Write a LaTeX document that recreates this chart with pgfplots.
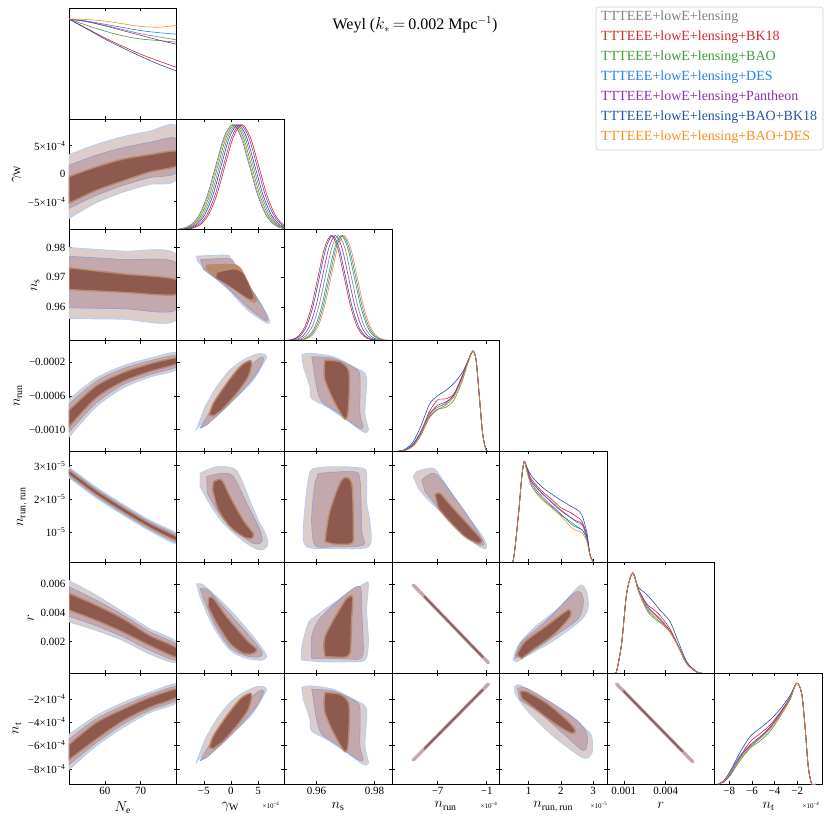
\documentclass[border=0pt]{standalone}
\usepackage{fontspec}
\setmainfont{Liberation Serif}
\usepackage{pgfplots}
\pgfplotsset{compat=1.18}

% series colours
\definecolor{cgray}{HTML}{808080}
\definecolor{cred}{HTML}{D62728}
\definecolor{cgreen}{HTML}{3A9E3A}
\definecolor{cblue}{HTML}{1E82F0}
\definecolor{cpurple}{HTML}{8C2FB4}
\definecolor{cdblue}{HTML}{2352A8}
\definecolor{corange}{HTML}{FF8C1A}
% blended contour fills
\definecolor{cOut}{HTML}{DDCDCA}
\definecolor{cOutE}{HTML}{B4D0F0}
\definecolor{cMid}{HTML}{C3A8AE}
\definecolor{cMidE}{HTML}{8A9AD2}
\definecolor{cTan}{HTML}{B98A6E}
\definecolor{cIn}{HTML}{8E5A4F}

\pgfplotsset{
    cell/.style={
        scale only axis, width=107.6pt, height=110.86pt, anchor=north west,
        axis line style={line width=0.6pt},
        tick style={black, line width=0.5pt},
        major tick length=3pt,
        xticklabels={}, yticklabels={},
        tick label style={font=\fontsize{11}{12}\selectfont},
        label style={font=\fontsize{14}{16}\selectfont},
        clip=true,
    },
    px0/.style={xmin=50, xmax=80, xtick={60,70}},
    px1/.style={xmin=-10, xmax=9.8, xtick={-5,0,5}},
    py1/.style={ymin=-10, ymax=9.8, ytick={-5,0,5}},
    px2/.style={xmin=0.9488, xmax=0.986, xtick={0.96,0.98}},
    py2/.style={ymin=0.9488, ymax=0.986, ytick={0.96,0.97,0.98}},
    px3/.style={xmin=-12.6, xmax=0.55, xtick={-7,-1}},
    py3/.style={ymin=-12.6, ymax=0.55, ytick={-10,-6,-2}},
    px4/.style={xmin=0.09, xmax=3.43, xtick={1,2,3}},
    py4/.style={ymin=0.09, ymax=3.43, ytick={1,2,3}},
    px5/.style={xmin=-0.2, xmax=7.5, xtick={1,4}},
    py5/.style={ymin=-0.2, ymax=7.5, ytick={2,4,6}},
    px6/.style={xmin=-9.3, xmax=0.2, xtick={-8,-6,-4,-2}},
    py6/.style={ymin=-9.3, ymax=0.2, ytick={-8,-6,-4,-2}},
    diag/.style={ymin=0, ymax=1.055, ytick=\empty},
    dl/.style={smooth, tension=0.5, line width=0.6pt},
    c95/.style={fill=cOut, draw=cOutE, line width=0.9pt, smooth, tension=0.5},
    c80/.style={fill=cMid, draw=cMidE, line width=0.5pt, smooth, tension=0.5},
    c68/.style={fill=cIn, draw=cTan, line width=1.4pt, smooth, tension=0.5},
    ln95/.style={cMid, line width=3.4pt, line cap=round},
    ln68/.style={cIn!85!gray, line width=1.8pt, line cap=round},
}

\begin{document}
\begin{tikzpicture}
\useasboundingbox (0pt,0pt) rectangle (830pt,830pt);

% ---------------- row 0 ----------------
\begin{axis}[cell, at={(69pt,822pt)}, px0, diag]
\addplot[dl, cgray]   coordinates {(50,0.95)(55,0.925)(60,0.89)(65,0.85)(70,0.81)(75,0.78)(80,0.751)};
\addplot[dl, cred]    coordinates {(50,0.95)(55,0.86)(60,0.77)(65,0.69)(70,0.615)(75,0.55)(80,0.49)};
\addplot[dl, cgreen]  coordinates {(50,0.95)(55,0.89)(60,0.835)(65,0.79)(70,0.76)(75,0.745)(80,0.73)};
\addplot[dl, cblue]   coordinates {(50,0.95)(55,0.93)(60,0.90)(65,0.87)(70,0.84)(75,0.82)(80,0.806)};
\addplot[dl, cpurple] coordinates {(50,0.95)(55,0.925)(60,0.885)(65,0.84)(70,0.795)(75,0.75)(80,0.71)};
\addplot[dl, cdblue]  coordinates {(50,0.95)(55,0.855)(60,0.76)(65,0.675)(70,0.595)(75,0.52)(80,0.456)};
\addplot[dl, corange] coordinates {(50,0.95)(55,0.945)(60,0.93)(65,0.905)(70,0.88)(75,0.872)(80,0.89)};
\end{axis}

% ---------------- row 1 : gamma_W ----------------
\begin{axis}[cell, at={(69pt,711.14pt)}, px0, py1,
    yticklabels={−5×10\textsuperscript{−4}, 0, 5×10\textsuperscript{−4}},
    ylabel={$\gamma_{\mathrm{W}}$}]
\addplot[c95] coordinates {(50,3.4)(57.5,5.2)(65,6.6)(72.5,7.6)(80,8.4)(80,-0.9)(72.5,-1.9)(65,-3.3)(57.5,-5.2)(50,-8.0)} -- cycle;
\addplot[c80] coordinates {(50,1.5)(57.5,3.3)(65,4.65)(72.5,5.6)(80,6.2)(80,0.3)(72.5,-0.7)(65,-2.1)(57.5,-3.9)(50,-6.2)} -- cycle;
\addplot[c68] coordinates {(50,-0.5)(57.5,1.2)(65,2.6)(72.5,3.4)(80,4.0)(80,1.4)(72.5,0.3)(65,-1.3)(57.5,-3.0)(50,-5.3)} -- cycle;
\end{axis}
\begin{axis}[cell, at={(176.6pt,711.14pt)}, px1, diag]
\addplot[dl, cblue]   coordinates {(-10.55,0.002)(-9.0,0.011)(-7.45,0.044)(-5.9,0.135)(-4.35,0.325)(-2.8,0.607)(-1.25,0.883)(0.3,1)(1.85,0.883)(3.4,0.607)(4.95,0.325)(6.5,0.135)(8.05,0.044)(9.6,0.011)(11.15,0.002)};
\addplot[dl, corange] coordinates {(-10.4,0.002)(-8.85,0.011)(-7.3,0.044)(-5.75,0.135)(-4.2,0.325)(-2.65,0.607)(-1.1,0.883)(0.45,1)(2.0,0.883)(3.55,0.607)(5.1,0.325)(6.65,0.135)(8.2,0.044)(9.75,0.011)(11.3,0.002)};
\addplot[dl, cgreen]  coordinates {(-10.15,0.002)(-8.6,0.011)(-7.05,0.044)(-5.5,0.135)(-3.95,0.325)(-2.4,0.607)(-0.85,0.883)(0.7,1)(2.25,0.883)(3.8,0.607)(5.35,0.325)(6.9,0.135)(8.45,0.044)(10.0,0.011)(11.55,0.002)};
\addplot[dl, cgray]   coordinates {(-9.85,0.002)(-8.3,0.011)(-6.75,0.044)(-5.2,0.135)(-3.65,0.325)(-2.1,0.607)(-0.55,0.883)(1.0,1)(2.55,0.883)(4.1,0.607)(5.65,0.325)(7.2,0.135)(8.75,0.044)(10.3,0.011)(11.85,0.002)};
\addplot[dl, cdblue]  coordinates {(-9.55,0.002)(-8.0,0.011)(-6.45,0.044)(-4.9,0.135)(-3.35,0.325)(-1.8,0.607)(-0.25,0.883)(1.3,1)(2.85,0.883)(4.4,0.607)(5.95,0.325)(7.5,0.135)(9.05,0.044)(10.6,0.011)(12.15,0.002)};
\addplot[dl, cpurple] coordinates {(-9.15,0.002)(-7.6,0.011)(-6.05,0.044)(-4.5,0.135)(-2.95,0.325)(-1.4,0.607)(0.15,0.883)(1.7,1)(3.25,0.883)(4.8,0.607)(6.35,0.325)(7.9,0.135)(9.45,0.044)(11.0,0.011)(12.55,0.002)};
\addplot[dl, cred]    coordinates {(-8.85,0.002)(-7.3,0.011)(-5.75,0.044)(-4.2,0.135)(-2.65,0.325)(-1.1,0.607)(0.45,0.883)(2.0,1)(3.55,0.883)(5.1,0.607)(6.65,0.325)(8.2,0.135)(9.75,0.044)(11.3,0.011)(12.85,0.002)};
\end{axis}

% ---------------- row 2 : n_s ----------------
\begin{axis}[cell, at={(69pt,600.28pt)}, px0, py2,
    yticklabels={0.96, 0.97, 0.98}, ylabel={$n_{\mathrm{s}}$}]
\addplot[c95] coordinates {(50,0.9800)(65,0.9788)(80,0.9776)(80,0.9559)(65,0.9560)(50,0.9562)} -- cycle;
\addplot[c80] coordinates {(50,0.9771)(65,0.9760)(80,0.9748)(80,0.9592)(65,0.9595)(50,0.9598)} -- cycle;
\addplot[c68] coordinates {(50,0.9732)(65,0.9712)(80,0.9693)(80,0.9642)(65,0.9650)(50,0.9659)} -- cycle;
\end{axis}
\begin{axis}[cell, at={(176.6pt,600.28pt)}, px1, py2]
\addplot[c95] coordinates {(-6.37,0.9771)(-0.73,0.9774)(0.19,0.9754)(4.8,0.9631)(6.64,0.9575)(7.13,0.9547)(6.03,0.9553)(2.96,0.9592)(-0.73,0.9664)(-4.41,0.9720)(-6.12,0.9754)} -- cycle;
\addplot[c80] coordinates {(-5.64,0.9759)(-0.41,0.9763)(0.80,0.9743)(5.40,0.9614)(6.76,0.9561)(6.14,0.9558)(3.27,0.9597)(-0.96,0.9670)(-5.01,0.9726)} -- cycle;
\addplot[c68, fill=cTan, draw=none] coordinates {(-4.53,0.9743)(-0.73,0.9745)(1.72,0.9734)(4.30,0.9642)(4.80,0.9622)(3.88,0.9617)(0.51,0.9659)(-3.17,0.9704)(-4.72,0.9729)} -- cycle;
\addplot[c68, draw=none] coordinates {(-2.57,0.9715)(0.51,0.9726)(2.35,0.9709)(4.06,0.9637)(3.27,0.9629)(-0.12,0.9670)(-2.69,0.9698)} -- cycle;
\end{axis}
\begin{axis}[cell, at={(284.2pt,600.28pt)}, px2, diag]
\addplot[dl, cred]    coordinates {(0.94925,0.002)(0.9515,0.011)(0.95375,0.044)(0.956,0.135)(0.95825,0.325)(0.9605,0.607)(0.96275,0.883)(0.965,1)(0.96725,0.883)(0.9695,0.607)(0.97175,0.325)(0.974,0.135)(0.97625,0.044)(0.9785,0.011)(0.98075,0.002)};
\addplot[dl, cdblue]  coordinates {(0.94975,0.002)(0.952,0.011)(0.95425,0.044)(0.9565,0.135)(0.95875,0.325)(0.961,0.607)(0.96325,0.883)(0.9655,1)(0.96775,0.883)(0.97,0.607)(0.97225,0.325)(0.9745,0.135)(0.97675,0.044)(0.979,0.011)(0.98125,0.002)};
\addplot[dl, cpurple] coordinates {(0.95075,0.002)(0.953,0.011)(0.95525,0.044)(0.9575,0.135)(0.95975,0.325)(0.962,0.607)(0.96425,0.883)(0.9665,1)(0.96875,0.883)(0.971,0.607)(0.97325,0.325)(0.9755,0.135)(0.97775,0.044)(0.98,0.011)(0.98225,0.002)};
\addplot[dl, cgray]   coordinates {(0.95175,0.002)(0.954,0.011)(0.95625,0.044)(0.9585,0.135)(0.96075,0.325)(0.963,0.607)(0.96525,0.883)(0.9675,1)(0.96975,0.883)(0.972,0.607)(0.97425,0.325)(0.9765,0.135)(0.97875,0.044)(0.981,0.011)(0.98325,0.002)};
\addplot[dl, cgreen]  coordinates {(0.95275,0.002)(0.955,0.011)(0.95725,0.044)(0.9595,0.135)(0.96175,0.325)(0.964,0.607)(0.96625,0.883)(0.9685,1)(0.97075,0.883)(0.973,0.607)(0.97525,0.325)(0.9775,0.135)(0.97975,0.044)(0.982,0.011)(0.98425,0.002)};
\addplot[dl, cblue]   coordinates {(0.95325,0.002)(0.9555,0.011)(0.95775,0.044)(0.96,0.135)(0.96225,0.325)(0.9645,0.607)(0.96675,0.883)(0.969,1)(0.97125,0.883)(0.9735,0.607)(0.97575,0.325)(0.978,0.135)(0.98025,0.044)(0.9825,0.011)(0.98475,0.002)};
\addplot[dl, corange] coordinates {(0.95375,0.002)(0.956,0.011)(0.95825,0.044)(0.9605,0.135)(0.96275,0.325)(0.965,0.607)(0.96725,0.883)(0.9695,1)(0.97175,0.883)(0.974,0.607)(0.97625,0.325)(0.9785,0.135)(0.98075,0.044)(0.983,0.011)(0.98525,0.002)};
\end{axis}

% ---------------- row 3 : n_run ----------------
\begin{axis}[cell, at={(69pt,489.42pt)}, px0, py3,
    yticklabels={−0.0010, −0.0006, −0.0002}, ylabel={$n_{\mathrm{run}}$}]
\addplot[c95] coordinates {(50,-6.42)(57.5,-3.92)(65,-2.47)(72.5,-1.55)(80,-0.90)(80,-2.87)(72.5,-3.79)(65,-5.10)(57.5,-7.34)(50,-10.89)} -- cycle;
\addplot[c80] coordinates {(50,-7.0)(57.5,-4.3)(65,-2.8)(72.5,-1.85)(80,-1.2)(80,-2.55)(72.5,-3.5)(65,-4.7)(57.5,-6.9)(50,-10.3)} -- cycle;
\addplot[c68] coordinates {(50,-7.73)(57.5,-4.84)(65,-3.26)(72.5,-2.21)(80,-1.49)(80,-2.21)(72.5,-3.13)(65,-4.32)(57.5,-6.29)(50,-9.71)} -- cycle;
\end{axis}
\begin{axis}[cell, at={(176.6pt,489.42pt)}, px1, py3]
\addplot[c95] coordinates {(-6.43,-10.14)(-5.69,-9.47)(-2.62,-7.89)(1.36,-5.91)(4.11,-4.13)(5.95,-2.15)(6.58,-1.37)(5.95,-1.05)(4.74,-1.05)(2.27,-1.76)(-0.17,-2.94)(-2.62,-4.92)(-4.77,-7.30)} -- cycle;
\addplot[c80] coordinates {(-5.69,-9.86)(-3.24,-7.30)(0.44,-4.92)(4.11,-2.15)(5.66,-1.44)(5.95,-1.84)(4.74,-3.34)(1.67,-5.71)(-1.40,-7.69)(-4.46,-9.47)} -- cycle;
\addplot[c68] coordinates {(-3.98,-8.28)(-3.24,-6.89)(-0.78,-4.52)(1.67,-2.55)(3.38,-1.84)(3.82,-2.15)(3.19,-3.74)(1.06,-5.71)(-1.40,-7.49)(-3.24,-8.40)} -- cycle;
\end{axis}
\begin{axis}[cell, at={(284.2pt,489.42pt)}, px2, py3]
\addplot[c95] coordinates {(0.9549,-1.16)(0.9577,-0.96)(0.9658,-1.37)(0.9727,-2.55)(0.9767,-3.34)(0.9773,-4.52)(0.9767,-8.08)(0.9779,-10.06)(0.9761,-10.26)(0.9704,-8.88)(0.9635,-7.30)(0.9583,-6.30)(0.9577,-4.92)(0.9554,-2.55)} -- cycle;
\addplot[c80] coordinates {(0.9583,-1.37)(0.9658,-1.56)(0.9733,-2.74)(0.9750,-3.74)(0.9750,-8.08)(0.9761,-9.67)(0.9744,-9.74)(0.9669,-7.89)(0.9618,-6.70)(0.9600,-4.92)(0.9589,-2.55)} -- cycle;
\addplot[c68] coordinates {(0.9629,-1.76)(0.9681,-1.96)(0.9710,-2.94)(0.9713,-4.92)(0.9710,-7.49)(0.9704,-8.67)(0.9692,-8.55)(0.9658,-6.50)(0.9629,-4.13)(0.9626,-2.55)} -- cycle;
\end{axis}
\begin{axis}[cell, at={(391.8pt,489.42pt)}, px3, diag]
\addplot[dl, cgray]   coordinates {(-12,0)(-11,0.01)(-10,0.06)(-9,0.17)(-8,0.32)(-7,0.40)(-6,0.44)(-5,0.53)(-4,0.71)(-3.3,0.86)(-2.7,0.955)(-2.3,0.87)(-1.9,0.52)(-1.5,0.17)(-1.1,0.02)(-0.7,0)};
\addplot[dl, cred]    coordinates {(-12,0)(-11,0.015)(-10,0.07)(-9,0.20)(-8,0.38)(-7,0.49)(-6,0.50)(-5,0.55)(-4,0.72)(-3.3,0.86)(-2.7,0.955)(-2.3,0.87)(-1.9,0.52)(-1.5,0.17)(-1.1,0.02)(-0.7,0)};
\addplot[dl, cgreen]  coordinates {(-12,0)(-11,0.01)(-10,0.05)(-9,0.16)(-8,0.33)(-7,0.40)(-6,0.42)(-5,0.49)(-4,0.67)(-3.3,0.84)(-2.7,0.955)(-2.3,0.87)(-1.9,0.52)(-1.5,0.17)(-1.1,0.02)(-0.7,0)};
\addplot[dl, cblue]   coordinates {(-12,0)(-11,0.015)(-10,0.07)(-9,0.19)(-8,0.36)(-7,0.42)(-6,0.46)(-5,0.54)(-4,0.70)(-3.3,0.85)(-2.7,0.955)(-2.3,0.87)(-1.9,0.52)(-1.5,0.17)(-1.1,0.02)(-0.7,0)};
\addplot[dl, cpurple] coordinates {(-12,0)(-11,0.01)(-10,0.06)(-9,0.18)(-8,0.35)(-7,0.44)(-6,0.47)(-5,0.54)(-4,0.71)(-3.3,0.86)(-2.7,0.955)(-2.3,0.87)(-1.9,0.52)(-1.5,0.17)(-1.1,0.02)(-0.7,0)};
\addplot[dl, cdblue]  coordinates {(-12,0)(-11,0.02)(-10,0.09)(-9,0.25)(-8,0.45)(-7,0.53)(-6,0.58)(-5,0.65)(-4,0.75)(-3.3,0.86)(-2.7,0.955)(-2.3,0.87)(-1.9,0.52)(-1.5,0.17)(-1.1,0.02)(-0.7,0)};
\addplot[dl, corange] coordinates {(-12,0)(-11,0.01)(-10,0.05)(-9,0.17)(-8,0.34)(-7,0.42)(-6,0.45)(-5,0.52)(-4,0.69)(-3.3,0.85)(-2.7,0.955)(-2.3,0.87)(-1.9,0.52)(-1.5,0.17)(-1.1,0.02)(-0.7,0)};
\end{axis}

% ---------------- row 4 : n_run,run ----------------
\begin{axis}[cell, at={(69pt,378.56pt)}, px0, py4,
    yticklabels={10\textsuperscript{−5}, 2×10\textsuperscript{−5}, 3×10\textsuperscript{−5}},
    ylabel={$n_{\mathrm{run,\,run}}$}]
\addplot[c95] coordinates {(50,2.96)(57.5,2.36)(65,1.84)(72.5,1.36)(80,0.96)(80,0.64)(72.5,1.04)(65,1.52)(57.5,2.04)(50,2.64)} -- cycle;
\addplot[c80] coordinates {(50,2.91)(57.5,2.31)(65,1.79)(72.5,1.31)(80,0.91)(80,0.69)(72.5,1.09)(65,1.57)(57.5,2.09)(50,2.69)} -- cycle;
\addplot[c68, line width=0.8pt] coordinates {(50,2.86)(57.5,2.26)(65,1.74)(72.5,1.26)(80,0.86)(80,0.74)(72.5,1.14)(65,1.62)(57.5,2.14)(50,2.74)} -- cycle;
\end{axis}
\begin{axis}[cell, at={(176.6pt,378.56pt)}, px1, py4]
\addplot[c95] coordinates {(-5.69,2.77)(-2.62,2.97)(0.44,2.92)(1.67,2.67)(4.74,1.46)(6.58,0.86)(6.58,0.56)(5.35,0.46)(2.90,0.66)(-0.78,1.16)(-3.24,1.67)(-5.69,2.37)} -- cycle;
\addplot[c80] coordinates {(-4.46,2.67)(-1.70,2.77)(0.44,2.67)(2.90,1.87)(5.35,1.06)(5.66,0.71)(4.11,0.66)(1.06,1.01)(-1.99,1.51)(-4.34,2.17)} -- cycle;
\addplot[c68] coordinates {(-3.24,2.52)(-1.70,2.57)(-0.17,2.07)(2.27,1.36)(4.11,0.96)(3.82,0.81)(2.27,0.86)(-0.17,1.16)(-2.33,1.67)(-3.36,2.27)} -- cycle;
\end{axis}
\begin{axis}[cell, at={(284.2pt,378.56pt)}, px2, py4]
\addplot[c95] coordinates {(0.9589,2.92)(0.9658,2.97)(0.9761,2.92)(0.9773,2.67)(0.9773,1.87)(0.9785,1.26)(0.9779,0.56)(0.9658,0.51)(0.9566,0.56)(0.9554,1.06)(0.9566,2.27)(0.9577,2.82)} -- cycle;
\addplot[c80] coordinates {(0.9606,2.77)(0.9727,2.82)(0.9750,2.57)(0.9756,1.06)(0.9761,0.61)(0.9658,0.56)(0.9594,0.61)(0.9583,1.46)(0.9594,2.47)} -- cycle;
\addplot[c68] coordinates {(0.9629,0.71)(0.9645,1.6)(0.9687,2.57)(0.9721,2.47)(0.9727,1.06)(0.9721,0.66)(0.9658,0.64)} -- cycle;
\end{axis}
\begin{axis}[cell, at={(391.8pt,378.56pt)}, px3, py4]
\addplot[c95] coordinates {(-9.97,2.67)(-9.56,2.82)(-8.14,2.92)(-7.32,2.90)(-6.50,2.62)(-4.05,1.72)(-1.61,0.91)(-1.00,0.56)(-1.41,0.51)(-2.43,0.66)(-5.28,1.31)(-8.14,1.97)(-9.36,2.32)} -- cycle;
\addplot[c80] coordinates {(-8.95,2.57)(-7.73,2.77)(-6.71,2.62)(-3.65,1.61)(-1.41,0.71)(-1.82,0.61)(-3.25,0.81)(-6.50,1.61)(-8.54,2.22)} -- cycle;
\addplot[c68] coordinates {(-7.32,2.12)(-6.71,2.17)(-5.28,1.77)(-2.83,1.11)(-1.61,0.76)(-2.02,0.66)(-3.65,0.86)(-5.69,1.36)(-6.91,1.72)} -- cycle;
\end{axis}
\begin{axis}[cell, at={(499.4pt,378.56pt)}, px4, diag]
\addplot[dl, cgray]   coordinates {(0.35,0)(0.52,0.02)(0.68,0.45)(0.78,0.8)(0.86,0.96)(0.95,0.88)(1.09,0.77)(1.4,0.66)(1.71,0.578)(2.0,0.50)(2.33,0.42)(2.5,0.38)(2.65,0.356)(2.8,0.244)(2.9,0.07)(3.01,0)(3.1,0)};
\addplot[dl, cred]    coordinates {(0.35,0)(0.52,0.02)(0.68,0.45)(0.78,0.8)(0.86,0.96)(0.95,0.89)(1.09,0.79)(1.4,0.68)(1.71,0.60)(2.0,0.52)(2.33,0.467)(2.5,0.43)(2.65,0.39)(2.8,0.26)(2.9,0.07)(3.01,0)(3.1,0)};
\addplot[dl, cgreen]  coordinates {(0.35,0)(0.52,0.02)(0.68,0.45)(0.78,0.8)(0.86,0.96)(0.95,0.86)(1.09,0.73)(1.4,0.61)(1.71,0.53)(2.0,0.45)(2.33,0.38)(2.5,0.34)(2.65,0.31)(2.8,0.22)(2.9,0.07)(3.01,0)(3.1,0)};
\addplot[dl, cblue]   coordinates {(0.35,0)(0.52,0.02)(0.68,0.45)(0.78,0.8)(0.86,0.96)(0.95,0.87)(1.09,0.75)(1.4,0.63)(1.71,0.54)(2.0,0.46)(2.33,0.36)(2.5,0.33)(2.65,0.31)(2.8,0.24)(2.9,0.08)(3.01,0)(3.1,0)};
\addplot[dl, cpurple] coordinates {(0.35,0)(0.52,0.02)(0.68,0.45)(0.78,0.8)(0.86,0.96)(0.95,0.88)(1.09,0.77)(1.4,0.66)(1.71,0.57)(2.0,0.49)(2.33,0.42)(2.5,0.39)(2.65,0.37)(2.8,0.25)(2.9,0.07)(3.01,0)(3.1,0)};
\addplot[dl, cdblue]  coordinates {(0.35,0)(0.52,0.02)(0.68,0.45)(0.78,0.8)(0.86,0.96)(0.95,0.90)(1.09,0.82)(1.4,0.72)(1.71,0.65)(2.0,0.59)(2.33,0.53)(2.5,0.50)(2.65,0.45)(2.8,0.29)(2.9,0.08)(3.01,0)(3.1,0)};
\addplot[dl, corange] coordinates {(0.35,0)(0.52,0.02)(0.68,0.45)(0.78,0.8)(0.86,0.96)(0.95,0.86)(1.09,0.72)(1.4,0.60)(1.71,0.52)(2.0,0.44)(2.33,0.33)(2.5,0.30)(2.65,0.28)(2.8,0.20)(2.9,0.07)(3.01,0)(3.1,0)};
\end{axis}

% ---------------- row 5 : r ----------------
\begin{axis}[cell, at={(69pt,267.7pt)}, px0, py5,
    yticklabels={0.002, 0.004, 0.006}, ylabel={$r$}]
\addplot[c95] coordinates {(50,6.23)(57.5,5.23)(65,4.06)(72.5,2.89)(80,1.95)(80,0.55)(72.5,1.13)(65,2.07)(57.5,2.77)(50,3.36)} -- cycle;
\addplot[c80] coordinates {(50,5.8)(57.5,4.88)(65,3.85)(72.5,2.68)(80,1.78)(80,0.7)(72.5,1.4)(65,2.33)(57.5,3.1)(50,3.75)} -- cycle;
\addplot[c68] coordinates {(50,5.35)(57.5,4.53)(65,3.59)(72.5,2.42)(80,1.56)(80,0.90)(72.5,1.72)(65,2.65)(57.5,3.47)(50,4.18)} -- cycle;
\end{axis}
\begin{axis}[cell, at={(176.6pt,267.7pt)}, px1, py5]
\addplot[c95] coordinates {(-6.30,5.99)(-5.09,5.92)(-1.99,4.88)(0.44,3.95)(4.11,2.33)(5.95,1.40)(6.58,0.94)(5.66,0.71)(2.90,0.83)(-0.17,1.40)(-3.24,3.02)(-5.69,5.11)} -- cycle;
\addplot[c80] coordinates {(-5.69,5.69)(-4.17,5.57)(-1.40,4.41)(3.51,2.33)(5.66,1.29)(5.35,0.94)(2.90,0.99)(-0.17,1.59)(-2.93,3.14)(-5.20,5.11)} -- cycle;
\addplot[c68] coordinates {(-4.17,5.0)(-3.24,5.0)(-0.78,3.72)(2.90,2.10)(4.74,1.45)(4.11,1.17)(2.27,1.17)(-0.17,1.87)(-2.62,3.26)(-4.17,4.41)} -- cycle;
\end{axis}
\begin{axis}[cell, at={(284.2pt,267.7pt)}, px2, py5]
\addplot[c95] coordinates {(0.9549,0.71)(0.9549,1.63)(0.9571,3.26)(0.9594,3.72)(0.9658,4.65)(0.9727,5.57)(0.9767,6.04)(0.9779,5.99)(0.9773,4.18)(0.9779,1.98)(0.9767,0.71)(0.9704,0.59)(0.9612,0.59)} -- cycle;
\addplot[c80] coordinates {(0.9583,0.83)(0.9583,2.33)(0.9612,3.61)(0.9704,5.34)(0.9750,5.80)(0.9756,4.18)(0.9761,1.17)(0.9739,0.76)} -- cycle;
\addplot[c68] coordinates {(0.9629,0.94)(0.9629,2.33)(0.9692,4.65)(0.9715,5.15)(0.9725,5.0)(0.9721,3.49)(0.9715,1.17)(0.9681,0.90)} -- cycle;
\end{axis}
\begin{axis}[cell, at={(391.8pt,267.7pt)}, px3, py5]
\addplot[ln95] coordinates {(-9.97,5.92)(-0.80,0.52)};
\addplot[ln68] coordinates {(-8.6,5.11)(-1.5,0.93)};
\end{axis}
\begin{axis}[cell, at={(499.4pt,267.7pt)}, px4, py5]
\addplot[c95] coordinates {(0.52,0.71)(0.68,1.75)(1.20,3.02)(1.92,4.30)(2.49,5.69)(2.65,5.92)(2.80,5.45)(2.85,4.53)(2.75,3.83)(2.44,3.14)(1.71,1.98)(0.99,1.06)(0.63,0.59)} -- cycle;
\addplot[c80] coordinates {(0.57,0.83)(0.78,1.98)(1.51,3.37)(2.33,5.22)(2.59,5.45)(2.70,4.76)(2.54,3.60)(1.92,2.56)(1.09,1.29)} -- cycle;
\addplot[c68] coordinates {(0.63,1.06)(0.88,1.98)(1.51,3.02)(2.13,4.06)(2.28,4.18)(2.28,3.72)(1.82,2.56)(1.20,1.52)(0.78,0.83)} -- cycle;
\end{axis}
\begin{axis}[cell, at={(607pt,267.7pt)}, px5, diag]
\addplot[dl, cgray]   coordinates {(0.3,0)(0.49,0.02)(0.85,0.286)(1.21,0.763)(1.64,0.954)(2.04,0.795)(2.64,0.635)(3.1,0.57)(3.59,0.508)(4.31,0.397)(4.9,0.254)(5.5,0.095)(6.22,0.01)(6.6,0)};
\addplot[dl, cred]    coordinates {(0.3,0)(0.49,0.02)(0.85,0.286)(1.21,0.763)(1.64,0.954)(2.04,0.80)(2.64,0.66)(3.1,0.61)(3.59,0.55)(4.31,0.42)(4.9,0.26)(5.5,0.09)(6.22,0.01)(6.6,0)};
\addplot[dl, cgreen]  coordinates {(0.3,0)(0.49,0.02)(0.85,0.286)(1.21,0.763)(1.64,0.954)(2.04,0.78)(2.64,0.60)(3.1,0.53)(3.59,0.48)(4.31,0.40)(4.9,0.26)(5.5,0.10)(6.22,0.01)(6.6,0)};
\addplot[dl, cblue]   coordinates {(0.3,0)(0.49,0.02)(0.85,0.286)(1.21,0.763)(1.64,0.954)(2.04,0.79)(2.64,0.62)(3.1,0.55)(3.59,0.49)(4.31,0.39)(4.9,0.26)(5.5,0.10)(6.22,0.015)(6.6,0)};
\addplot[dl, cpurple] coordinates {(0.3,0)(0.49,0.02)(0.85,0.286)(1.21,0.763)(1.64,0.954)(2.04,0.80)(2.64,0.65)(3.1,0.58)(3.59,0.52)(4.31,0.40)(4.9,0.25)(5.5,0.09)(6.22,0.01)(6.6,0)};
\addplot[dl, cdblue]  coordinates {(0.3,0)(0.49,0.02)(0.85,0.286)(1.21,0.763)(1.64,0.954)(2.04,0.82)(2.64,0.75)(3.1,0.68)(3.59,0.60)(4.31,0.49)(4.9,0.30)(5.5,0.11)(6.22,0.01)(6.6,0)};
\addplot[dl, corange] coordinates {(0.3,0)(0.49,0.02)(0.85,0.286)(1.21,0.763)(1.64,0.954)(2.04,0.79)(2.64,0.61)(3.1,0.55)(3.59,0.49)(4.31,0.39)(4.9,0.25)(5.5,0.09)(6.22,0.01)(6.6,0)};
\end{axis}

% ---------------- row 6 : n_t ----------------
\begin{axis}[cell, at={(69pt,156.84pt)}, px0, py6,
    xticklabels={60, 70}, xlabel={$N_{\mathrm{e}}$},
    yticklabels={−8×10\textsuperscript{−4}, −6×10\textsuperscript{−4}, −4×10\textsuperscript{−4}, −2×10\textsuperscript{−4}},
    ylabel={$n_{\mathrm{t}}$}]
\addplot[c95] coordinates {(50,-5.05)(57.5,-3.47)(65,-2.32)(72.5,-1.45)(80,-0.73)(80,-2.32)(72.5,-3.18)(65,-4.48)(57.5,-6.06)(50,-8.08)} -- cycle;
\addplot[c80] coordinates {(50,-5.45)(57.5,-3.75)(65,-2.6)(72.5,-1.65)(80,-0.95)(80,-2.1)(72.5,-2.98)(65,-4.2)(57.5,-5.8)(50,-7.65)} -- cycle;
\addplot[c68] coordinates {(50,-5.92)(57.5,-4.05)(65,-2.89)(72.5,-1.88)(80,-1.16)(80,-1.88)(72.5,-2.75)(65,-3.9)(57.5,-5.49)(50,-7.22)} -- cycle;
\end{axis}
\begin{axis}[cell, at={(176.6pt,156.84pt)}, px1, py6,
    xticklabels={−5, 0, 5}, xlabel={$\gamma_{\mathrm{W}}$}]
\addplot[c95] coordinates {(-6.43,-7.52)(-5.69,-7.04)(-2.62,-5.90)(1.36,-4.47)(4.11,-3.18)(5.95,-1.75)(6.58,-1.19)(5.95,-0.96)(4.74,-0.96)(2.27,-1.47)(-0.17,-2.32)(-2.62,-3.75)(-4.77,-5.47)} -- cycle;
\addplot[c80] coordinates {(-5.69,-7.32)(-3.24,-5.47)(0.44,-3.75)(4.11,-1.75)(5.66,-1.24)(5.95,-1.53)(4.74,-2.61)(1.67,-4.32)(-1.40,-5.75)(-4.46,-7.04)} -- cycle;
\addplot[c68] coordinates {(-3.98,-6.18)(-3.24,-5.18)(-0.78,-3.46)(1.67,-2.04)(3.38,-1.53)(3.82,-1.75)(3.19,-2.90)(1.06,-4.32)(-1.40,-5.61)(-3.24,-6.27)} -- cycle;
\end{axis}
\begin{axis}[cell, at={(284.2pt,156.84pt)}, px2, py6,
    xticklabels={0.96, 0.98}, xlabel={$n_{\mathrm{s}}$}]
\addplot[c95] coordinates {(0.9549,-1.04)(0.9577,-0.89)(0.9658,-1.19)(0.9727,-2.04)(0.9767,-2.61)(0.9773,-3.46)(0.9767,-6.04)(0.9779,-7.47)(0.9761,-7.61)(0.9704,-6.61)(0.9635,-5.47)(0.9583,-4.75)(0.9577,-3.75)(0.9554,-2.04)} -- cycle;
\addplot[c80] coordinates {(0.9583,-1.19)(0.9658,-1.33)(0.9733,-2.18)(0.9750,-2.90)(0.9750,-6.04)(0.9761,-7.18)(0.9744,-7.23)(0.9669,-5.90)(0.9618,-5.04)(0.9600,-3.75)(0.9589,-2.04)} -- cycle;
\addplot[c68] coordinates {(0.9629,-1.47)(0.9681,-1.61)(0.9710,-2.32)(0.9713,-3.75)(0.9710,-5.61)(0.9704,-6.46)(0.9692,-6.37)(0.9658,-4.89)(0.9629,-3.18)(0.9626,-2.04)} -- cycle;
\end{axis}
\begin{axis}[cell, at={(391.8pt,156.84pt)}, px3, py6,
    xticklabels={−7, −1}, xlabel={$n_{\mathrm{run}}$}]
\addplot[ln95] coordinates {(-9.97,-7.24)(-0.80,-0.73)};
\addplot[ln68] coordinates {(-8.6,-6.27)(-1.5,-1.23)};
\end{axis}
\begin{axis}[cell, at={(499.4pt,156.84pt)}, px4, py6,
    xticklabels={1, 2, 3}, xlabel={$n_{\mathrm{run,\,run}}$}]
\addplot[c95] coordinates {(0.57,-0.96)(0.73,-0.82)(1.35,-1.82)(2.18,-3.24)(2.80,-4.67)(2.96,-5.25)(2.96,-6.67)(2.75,-7.10)(2.39,-6.53)(1.66,-4.96)(0.94,-2.96)(0.57,-1.53)} -- cycle;
\addplot[c80] coordinates {(0.65,-1.10)(0.94,-1.10)(1.66,-2.25)(2.49,-3.82)(2.80,-4.96)(2.80,-6.10)(2.65,-6.39)(2.18,-5.25)(1.35,-3.24)(0.73,-2.10)} -- cycle;
\addplot[c68] coordinates {(0.73,-1.39)(0.94,-1.39)(1.56,-2.38)(2.18,-3.82)(2.44,-4.67)(2.34,-4.96)(1.87,-4.24)(1.25,-2.96)(0.78,-1.96)} -- cycle;
\end{axis}
\begin{axis}[cell, at={(607pt,156.84pt)}, px5, py6,
    xticklabels={0.001, 0.004}, xlabel={$r$}]
\addplot[ln95] coordinates {(0.49,-0.73)(5.93,-7.39)};
\addplot[ln68] coordinates {(1.0,-1.35)(5.2,-6.5)};
\end{axis}
\begin{axis}[cell, at={(714.6pt,156.84pt)}, px6, diag,
    xticklabels={−8, −6, −4, −2}, xlabel={$n_{\mathrm{t}}$}]
\addplot[dl, cgray]   coordinates {(-9.0,0)(-8.5,0.02)(-7.94,0.09)(-7.06,0.24)(-6.18,0.35)(-5.29,0.44)(-4.41,0.54)(-3.53,0.67)(-2.65,0.82)(-2.05,0.96)(-1.61,0.86)(-1.32,0.55)(-1.03,0.165)(-0.73,0)(-0.4,0)};
\addplot[dl, cred]    coordinates {(-9.0,0)(-8.5,0.025)(-7.94,0.10)(-7.06,0.26)(-6.18,0.40)(-5.29,0.48)(-4.41,0.56)(-3.53,0.68)(-2.65,0.82)(-2.05,0.96)(-1.61,0.86)(-1.32,0.55)(-1.03,0.165)(-0.73,0)(-0.4,0)};
\addplot[dl, cgreen]  coordinates {(-9.0,0)(-8.5,0.02)(-7.94,0.08)(-7.06,0.22)(-6.18,0.34)(-5.29,0.41)(-4.41,0.50)(-3.53,0.64)(-2.65,0.80)(-2.05,0.96)(-1.61,0.86)(-1.32,0.55)(-1.03,0.165)(-0.73,0)(-0.4,0)};
\addplot[dl, cblue]   coordinates {(-9.0,0)(-8.5,0.03)(-7.94,0.11)(-7.06,0.27)(-6.18,0.36)(-5.29,0.44)(-4.41,0.53)(-3.53,0.66)(-2.65,0.81)(-2.05,0.96)(-1.61,0.86)(-1.32,0.55)(-1.03,0.165)(-0.73,0)(-0.4,0)};
\addplot[dl, cpurple] coordinates {(-9.0,0)(-8.5,0.02)(-7.94,0.09)(-7.06,0.25)(-6.18,0.37)(-5.29,0.45)(-4.41,0.54)(-3.53,0.67)(-2.65,0.82)(-2.05,0.96)(-1.61,0.86)(-1.32,0.55)(-1.03,0.165)(-0.73,0)(-0.4,0)};
\addplot[dl, cdblue]  coordinates {(-9.0,0)(-8.5,0.03)(-7.94,0.12)(-7.06,0.30)(-6.18,0.45)(-5.29,0.53)(-4.41,0.61)(-3.53,0.71)(-2.65,0.84)(-2.05,0.96)(-1.61,0.86)(-1.32,0.55)(-1.03,0.165)(-0.73,0)(-0.4,0)};
\addplot[dl, corange] coordinates {(-9.0,0)(-8.5,0.025)(-7.94,0.10)(-7.06,0.24)(-6.18,0.35)(-5.29,0.43)(-4.41,0.52)(-3.53,0.65)(-2.65,0.81)(-2.05,0.96)(-1.61,0.86)(-1.32,0.55)(-1.03,0.165)(-0.73,0)(-0.4,0)};
\end{axis}

% scale multipliers under the bottom row
\begin{scope}[every node/.style={font=\fontsize{7}{8}\selectfont, inner sep=0pt}]
\node at (271pt,25pt) {×10\textsuperscript{−4}};
\node at (489pt,25pt) {×10\textsuperscript{−4}};
\node at (599pt,25pt) {×10\textsuperscript{−5}};
\node at (811pt,25pt) {×10\textsuperscript{−4}};
\end{scope}

% title
\node[font=\fontsize{16}{18}\selectfont] at (415pt,805pt) {Weyl ($k_{*}\,{=}\,$0.002 Mpc$^{-1}$)};

% legend
\draw[rounded corners=3pt, draw=black!18, fill=white, line width=0.7pt] (596pt,823pt) rectangle (823pt,680pt);
\begin{scope}[every node/.style={anchor=west, font=\fontsize{14}{16}\selectfont, inner sep=0pt}]
\node[text=cgray]   at (601pt,813.3pt) {TTTEEE+lowE+lensing};
\node[text=cred]    at (601pt,793.3pt) {TTTEEE+lowE+lensing+BK18};
\node[text=cgreen]  at (601pt,773.3pt) {TTTEEE+lowE+lensing+BAO};
\node[text=cblue]   at (601pt,753.3pt) {TTTEEE+lowE+lensing+DES};
\node[text=cpurple] at (601pt,733.3pt) {TTTEEE+lowE+lensing+Pantheon};
\node[text=cdblue]  at (601pt,713.3pt) {TTTEEE+lowE+lensing+BAO+BK18};
\node[text=corange] at (601pt,693.3pt) {TTTEEE+lowE+lensing+BAO+DES};
\end{scope}
\end{tikzpicture}
\end{document}
